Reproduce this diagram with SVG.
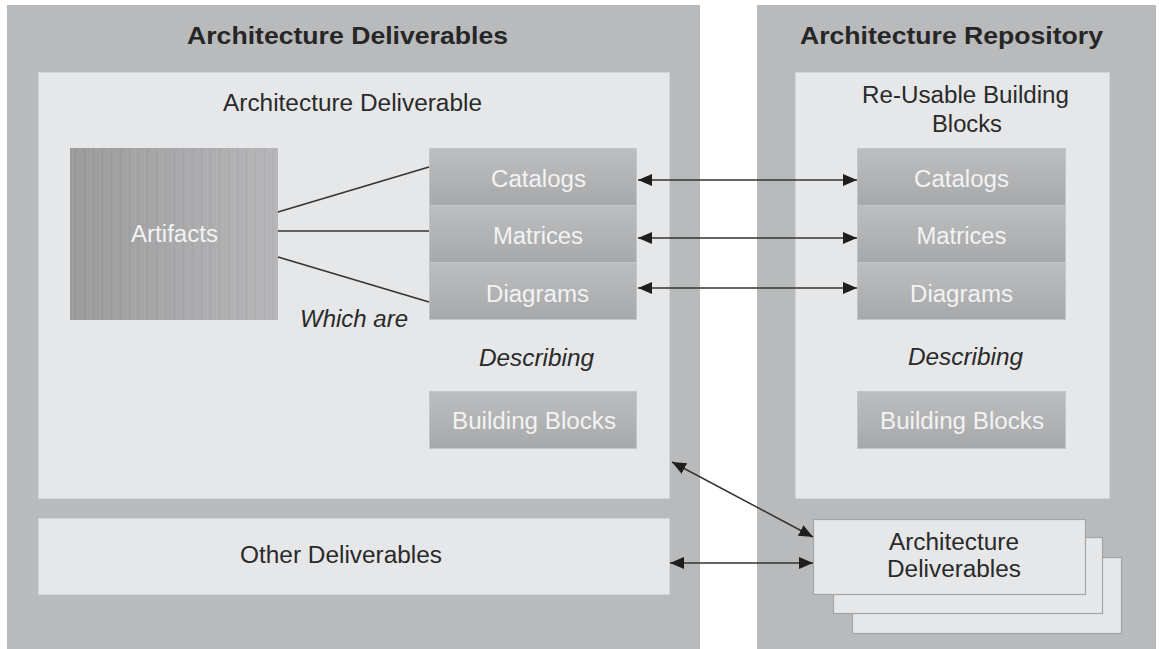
<svg xmlns="http://www.w3.org/2000/svg" width="1159" height="649" viewBox="0 0 1159 649">
  <style>
    .panel { fill: #b9babc; }
    .light { fill: #e6e7e8; stroke: #d3d4d6; stroke-width: 1; }
    .block { fill: url(#blockGrad); stroke: #c4c5c7; stroke-width: 1; }
    .stack { fill: #e6e7e8; stroke: #a3a4a6; stroke-width: 1.2; }
    .title { font-family: "Liberation Sans", Arial, sans-serif; font-weight: bold; font-size: 24px; fill: #262626; text-anchor: middle; }
    .label { font-family: "Liberation Sans", Arial, sans-serif; font-size: 23px; fill: #2a2a2a; text-anchor: middle; }
    .inv { font-family: "Liberation Sans", Arial, sans-serif; font-size: 23px; fill: #f3f3f3; text-anchor: middle; }
    .ital { font-family: "Liberation Sans", Arial, sans-serif; font-style: italic; font-size: 23px; fill: #2a2a2a; text-anchor: middle; }
    .link { stroke: #333; stroke-width: 1.5; fill: none; }
    .arrow { stroke: #333; stroke-width: 1.5; fill: none; marker-start: url(#head); marker-end: url(#head); }
  </style>
  <defs>
    <linearGradient id="blockGrad" x1="0" y1="0" x2="0" y2="1">
      <stop offset="0" stop-color="#bdbec0"/>
      <stop offset="1" stop-color="#a7a8aa"/>
    </linearGradient>
    <linearGradient id="artGrad" x1="0" y1="0" x2="1" y2="0">
      <stop offset="0" stop-color="#9a9a9b"/>
      <stop offset="1" stop-color="#b5b6b8"/>
    </linearGradient>
    <pattern id="stripes" width="9" height="10" patternUnits="userSpaceOnUse">
      <rect x="0" y="0" width="1" height="10" fill="#ffffff" opacity="0.06"/>
      <rect x="3" y="0" width="1" height="10" fill="#000000" opacity="0.03"/>
      <rect x="6" y="0" width="1" height="10" fill="#ffffff" opacity="0.04"/>
    </pattern>
    <marker id="head" viewBox="0 0 14 12" refX="14" refY="6" markerWidth="14" markerHeight="12" markerUnits="userSpaceOnUse" orient="auto-start-reverse">
      <path d="M0,0 L14,6 L0,12 z" fill="#1e1e1e"/>
    </marker>
  </defs>

  <rect width="1159" height="649" fill="#ffffff"/>

  <!-- left container: deliverables -->
  <g id="architecture-deliverables">
    <rect class="panel" x="7" y="5" width="693" height="644"/>
    <text class="title" x="347.5" y="44" textLength="321" lengthAdjust="spacingAndGlyphs">Architecture Deliverables</text>
  </g>

  <!-- right container: repository -->
  <g id="architecture-repository">
    <rect class="panel" x="757" y="5" width="399" height="644"/>
    <text class="title" x="951.5" y="44" textLength="303" lengthAdjust="spacingAndGlyphs">Architecture Repository</text>
  </g>

  <g id="architecture-deliverable">
    <rect class="light" x="38.5" y="72.5" width="631" height="426"/>
    <text class="label" x="352.5" y="111" textLength="259" lengthAdjust="spacingAndGlyphs">Architecture Deliverable</text>
  </g>

  <g id="reusable-building-blocks">
    <rect class="light" x="795.5" y="72.5" width="314" height="426"/>
    <text class="label" x="965.5" y="103" textLength="207" lengthAdjust="spacingAndGlyphs">Re-Usable Building</text>
    <text class="label" x="967" y="132" textLength="70" lengthAdjust="spacingAndGlyphs">Blocks</text>
  </g>

  <g id="other-deliverables">
    <rect class="light" x="38.5" y="518.5" width="631" height="76"/>
    <text class="label" x="341" y="563" textLength="202" lengthAdjust="spacingAndGlyphs">Other Deliverables</text>
  </g>

  <g id="artifacts">
    <rect x="70" y="148" width="208" height="172" fill="url(#artGrad)"/>
    <rect x="70" y="148" width="208" height="172" fill="url(#stripes)"/>
    <text class="inv" x="174.5" y="242" textLength="87" lengthAdjust="spacingAndGlyphs">Artifacts</text>
  </g>

  <g id="catalogs-left">
    <rect class="block" x="429.5" y="148.5" width="207" height="57"/>
    <text class="inv" x="538.5" y="187" textLength="95" lengthAdjust="spacingAndGlyphs">Catalogs</text>
  </g>
  <g id="matrices-left">
    <rect class="block" x="429.5" y="205.5" width="207" height="57"/>
    <text class="inv" x="538" y="244" textLength="90" lengthAdjust="spacingAndGlyphs">Matrices</text>
  </g>
  <g id="diagrams-left">
    <rect class="block" x="429.5" y="262.5" width="207" height="57"/>
    <text class="inv" x="537.5" y="302" textLength="103" lengthAdjust="spacingAndGlyphs">Diagrams</text>
  </g>
  <g id="building-blocks-left">
    <rect class="block" x="429.5" y="391.5" width="207" height="57"/>
    <text class="inv" x="534" y="429" textLength="164" lengthAdjust="spacingAndGlyphs">Building Blocks</text>
  </g>

  <g id="catalogs-right">
    <rect class="block" x="857.5" y="148.5" width="208" height="57"/>
    <text class="inv" x="961.5" y="187" textLength="95" lengthAdjust="spacingAndGlyphs">Catalogs</text>
  </g>
  <g id="matrices-right">
    <rect class="block" x="857.5" y="205.5" width="208" height="57"/>
    <text class="inv" x="961.5" y="244" textLength="90" lengthAdjust="spacingAndGlyphs">Matrices</text>
  </g>
  <g id="diagrams-right">
    <rect class="block" x="857.5" y="262.5" width="208" height="57"/>
    <text class="inv" x="961.5" y="302" textLength="103" lengthAdjust="spacingAndGlyphs">Diagrams</text>
  </g>
  <g id="building-blocks-right">
    <rect class="block" x="857.5" y="391.5" width="208" height="57"/>
    <text class="inv" x="962" y="429" textLength="164" lengthAdjust="spacingAndGlyphs">Building Blocks</text>
  </g>

  <!-- stacked deliverables in the repository -->
  <g id="repository-deliverables">
    <rect class="stack" x="852.5" y="557.5" width="269" height="76"/>
    <rect class="stack" x="833.5" y="537.5" width="269" height="76"/>
    <rect class="stack" x="813.5" y="519.5" width="272" height="75"/>
    <text class="label" x="954" y="550" textLength="130" lengthAdjust="spacingAndGlyphs">Architecture</text>
    <text class="label" x="954" y="577" textLength="134" lengthAdjust="spacingAndGlyphs">Deliverables</text>
  </g>

  <!-- annotations -->
  <g id="annotations">
    <text class="ital" x="354" y="327" textLength="108" lengthAdjust="spacingAndGlyphs">Which are</text>
    <text class="ital" x="536.5" y="366" textLength="115" lengthAdjust="spacingAndGlyphs">Describing</text>
    <text class="ital" x="965.5" y="365" textLength="115" lengthAdjust="spacingAndGlyphs">Describing</text>
  </g>

  <!-- connectors -->
  <g id="connectors">
    <line class="link" x1="278" y1="212" x2="429" y2="167"/>
    <line class="link" x1="278" y1="231" x2="429" y2="231"/>
    <line class="link" x1="278" y1="257" x2="429" y2="302"/>
    <line class="arrow" x1="638" y1="180" x2="857" y2="180"/>
    <line class="arrow" x1="638" y1="238" x2="857" y2="238"/>
    <line class="arrow" x1="638" y1="288" x2="857" y2="288"/>
    <line class="arrow" x1="672" y1="462" x2="813" y2="537"/>
    <line class="arrow" x1="670" y1="563" x2="813" y2="563"/>
  </g>
</svg>
